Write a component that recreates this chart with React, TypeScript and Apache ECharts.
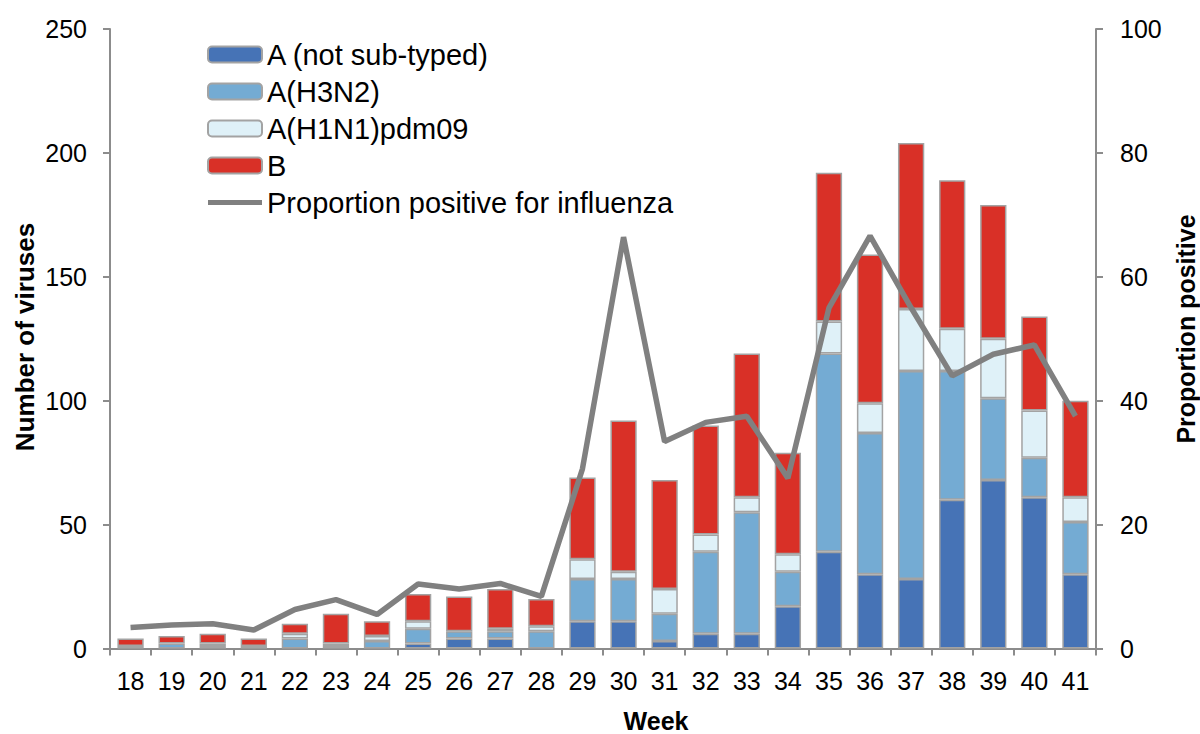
import React, { useEffect, useRef } from "react";
import * as echarts from "echarts";

const weeks = ["18","19","20","21","22","23","24","25","26","27","28","29","30","31","32","33","34","35","36","37","38","39","40","41"];
const aNotSubtyped = [0,0,0,0,0,0,0,2,4,4,0,11,11,3,6,6,17,39,30,28,60,68,61,30];
const aH3N2 =        [1,2,1,1,4,1,3,6,3,3,7,17,17,11,33,49,14,80,57,84,52,33,16,21];
const aH1N1 =        [0,0,1,0,2,1,2,3,0,1,2,8,3,10,7,6,7,13,12,25,17,24,19,10];
const bVirus =       [3,3,4,3,4,12,6,11,14,16,11,33,61,44,44,58,41,60,60,67,60,54,38,39];
const proportion =   [3.4,3.8,4.0,3.0,6.3,7.9,5.5,10.4,9.6,10.5,8.4,29,66.4,33.4,36.5,37.5,27.5,55,66.6,55,44,47.5,49,37.5];

const leftTicks = { min: 0, max: 250, interval: 50 };
const rightTicks = { min: 0, max: 100, interval: 20 };

const FONT = "'Liberation Sans', Arial, sans-serif";
const BORDER = "#A3A3A3";
const AXIS = "#8C8C8C";
const LINE_ICON = "path://M0,0 L54,0 L54,5 L0,5 Z";

export default function App() {
  const ref = useRef<HTMLDivElement>(null);
  useEffect(() => {
    document.body.style.margin = "0";
    const chart = echarts.init(ref.current!, null, { renderer: "svg" });
    const nz = (arr: number[]) => arr.map((v) => (v === 0 ? null : v));
    const barSeries = (name: string, data: number[], color: string) => ({
      name,
      type: "bar",
      stack: "v",
      barWidth: "64%",
      data: nz(data),
      itemStyle: { color, borderColor: BORDER, borderWidth: 1.5 },
      z: 2,
    });
    chart.setOption({
      animation: false,
      textStyle: { fontFamily: FONT },
      grid: { left: 110, right: 104, top: 29, bottom: 85.5 },
      legend: {
        orient: "vertical",
        left: 202,
        top: 35,
        itemWidth: 54,
        itemHeight: 16,
        itemGap: 8,
        textStyle: { fontSize: 29, color: "#000", fontFamily: FONT },
        data: [
          { name: "A (not sub-typed)" },
          { name: "A(H3N2)" },
          { name: "A(H1N1)pdm09" },
          { name: "B" },
          { name: "Proportion positive for influenza", icon: LINE_ICON, itemStyle: { color: "#808080", borderWidth: 0 } },
        ],
      },
      xAxis: {
        type: "category",
        data: weeks,
        boundaryGap: true,
        axisLine: { lineStyle: { color: AXIS, width: 2 } },
        axisTick: { show: true, length: 7, lineStyle: { color: AXIS, width: 2 }, alignWithLabel: false },
        axisLabel: { fontSize: 25, color: "#000", margin: 20, fontFamily: FONT },
      },
      yAxis: [
        {
          type: "value",
          ...leftTicks,
          splitLine: { show: false },
          axisLine: { show: true, lineStyle: { color: AXIS, width: 2 } },
          axisTick: { show: true, length: 7, lineStyle: { color: AXIS, width: 2 } },
          axisLabel: { fontSize: 25, color: "#000", margin: 23, fontFamily: FONT },
        },
        {
          type: "value",
          position: "right",
          ...rightTicks,
          splitLine: { show: false },
          axisLine: { show: true, lineStyle: { color: AXIS, width: 2 } },
          axisTick: { show: true, length: 7, lineStyle: { color: AXIS, width: 2 } },
          axisLabel: { fontSize: 25, color: "#000", margin: 24, fontFamily: FONT },
        },
      ],
      series: [
        barSeries("A (not sub-typed)", aNotSubtyped, "#4673B6"),
        barSeries("A(H3N2)", aH3N2, "#74ABD3"),
        barSeries("A(H1N1)pdm09", aH1N1, "#DFF1F8"),
        barSeries("B", bVirus, "#D93027"),
        {
          name: "Proportion positive for influenza",
          type: "line",
          yAxisIndex: 1,
          data: proportion,
          symbol: "none",
          showSymbol: false,
          lineStyle: { color: "#808080", width: 5.5 },
          itemStyle: { color: "#808080" },
          z: 5,
        },
      ],
      graphic: [
        {
          type: "text",
          x: 25,
          y: 337,
          rotation: Math.PI / 2,
          style: { text: "Number of viruses", font: `bold 26px ${FONT}`, fill: "#000", align: "center", verticalAlign: "middle" },
        },
        {
          type: "text",
          x: 1186,
          y: 329,
          rotation: Math.PI / 2,
          style: { text: "Proportion positive", font: `bold 25px ${FONT}`, fill: "#000", align: "center", verticalAlign: "middle" },
        },
        {
          type: "text",
          x: 656,
          y: 721,
          style: { text: "Week", font: `bold 25px ${FONT}`, fill: "#000", align: "center", verticalAlign: "middle" },
        },
      ],
    });
    return () => chart.dispose();
  }, []);
  return <div ref={ref} style={{ position: "absolute", left: 0, top: 0, width: 1200, height: 734 }} />;
}
